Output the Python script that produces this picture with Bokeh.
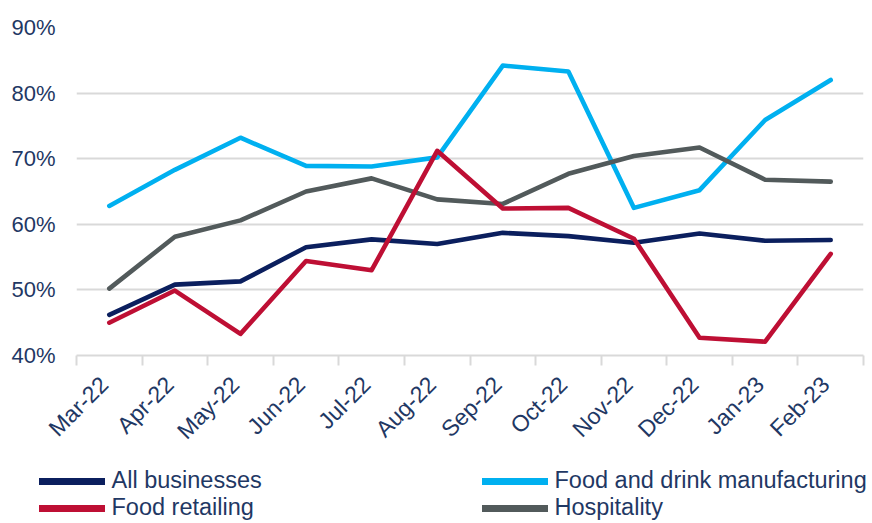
from bokeh.plotting import figure
from bokeh.layouts import column
from bokeh.models import (FixedTicker, Range1d, PrintfTickFormatter, Legend, LegendItem,
                          ColumnDataSource, CustomJSTickFormatter)
from bokeh.embed import file_html
from bokeh.resources import INLINE
import math

months = ["Mar-22", "Apr-22", "May-22", "Jun-22", "Jul-22", "Aug-22",
          "Sep-22", "Oct-22", "Nov-22", "Dec-22", "Jan-23", "Feb-23"]
all_businesses = [46.2, 50.8, 51.3, 56.5, 57.7, 57.0, 58.7, 58.2, 57.2, 58.6, 57.5, 57.6]
food_drink_manufacturing = [62.8, 68.3, 73.2, 68.9, 68.8, 70.2, 84.2, 83.3, 62.5, 65.2, 75.9, 82.0]
food_retailing = [45.0, 49.9, 43.3, 54.4, 53.0, 71.2, 62.4, 62.5, 57.8, 42.7, 42.1, 55.5]
hospitality = [50.2, 58.1, 60.6, 65.0, 67.0, 63.8, 63.1, 67.7, 70.4, 71.7, 66.8, 66.5]
y_ticks = [40, 50, 60, 70, 80, 90]

series = [
    ("All businesses", all_businesses, "#0B1F5E"),
    ("Food and drink manufacturing", food_drink_manufacturing, "#00B0F0"),
    ("Hospitality", hospitality, "#525A5B"),
    ("Food retailing", food_retailing, "#BE0F34"),
]

TEXT = "#1F3864"
GRID = "#D9D9D9"
FONT = "Liberation Sans"

x = list(range(len(months)))

p = figure(width=872, height=460, output_backend="svg", toolbar_location=None,
           x_range=Range1d(-0.5, len(months) - 0.5), y_range=Range1d(40, 90))
p.min_border_left = 76
p.min_border_right = 9
p.min_border_top = 27
p.min_border_bottom = 105
p.outline_line_color = None
p.frame_align = False

for name, vals, col in series:
    src = ColumnDataSource(dict(x=x, y=vals))
    p.line("x", "y", source=src, line_color=col, line_width=4.6,
           line_join="round", line_cap="round")

# axes
xa = p.xaxis[0]
xa.ticker = FixedTicker(ticks=[i - 0.08 for i in x],
                        minor_ticks=[i - 0.5 for i in range(len(months) + 1)])
xa.formatter = CustomJSTickFormatter(args=dict(months=months),
                                     code="return months[Math.round(tick)]")
xa.major_label_orientation = math.pi / 4
xa.major_tick_line_color = None
xa.major_tick_out = 0
xa.major_tick_in = 0
xa.minor_tick_line_color = GRID
xa.minor_tick_line_width = 2
xa.minor_tick_out = 10
xa.minor_tick_in = 0
xa.axis_line_color = GRID
xa.axis_line_width = 2
xa.major_label_text_font = FONT
xa.major_label_text_font_size = "23px"
xa.major_label_text_color = TEXT
xa.major_label_standoff = 15

ya = p.yaxis[0]
ya.ticker = FixedTicker(ticks=y_ticks)
ya.formatter = PrintfTickFormatter(format="%d%%")
ya.axis_line_color = None
ya.major_tick_line_color = None
ya.minor_tick_line_color = None
ya.major_tick_out = 0
ya.major_label_standoff = 21
ya.major_label_text_font = FONT
ya.major_label_text_font_size = "22px"
ya.major_label_text_color = TEXT

p.xgrid.grid_line_color = None
p.ygrid.grid_line_color = GRID
p.ygrid.grid_line_width = 2
p.ygrid.ticker = FixedTicker(ticks=y_ticks)

# legend figure below the chart
lf = figure(width=872, height=63, output_backend="svg", toolbar_location=None,
            x_range=Range1d(0, 1), y_range=Range1d(0, 1),
            x_axis_location=None, y_axis_location=None)
lf.min_border = 0
lf.outline_line_color = None
lf.xgrid.visible = False
lf.ygrid.visible = False
lf.frame_align = False

dummies = {}
for name, vals, col in series:
    # placed outside the visible range: used only for the legend glyphs
    dummies[name] = lf.line([5, 6], [5, 5], line_color=col, line_width=7, line_cap="round")


def make_legend(names, vx, vy):
    lg = Legend(items=[LegendItem(label=n, renderers=[dummies[n]]) for n in names],
                location=(vx, vy), orientation="vertical")
    lg.padding = 0
    lg.margin = 0
    lg.spacing = 0
    lg.glyph_width = 66
    lg.glyph_height = 26
    lg.label_height = 26
    lg.label_standoff = 7
    lg.label_text_font = FONT
    lg.label_text_font_size = "23.5px"
    lg.label_text_color = TEXT
    lg.border_line_color = None
    lg.background_fill_alpha = 0
    return lg


lf.add_layout(make_legend(["All businesses", "Food retailing"], 38.5, 2))
lf.add_layout(make_legend(["Food and drink manufacturing", "Hospitality"], 481.5, 2))

open("out.html", "w").write(file_html(column(p, lf, spacing=0), INLINE))
